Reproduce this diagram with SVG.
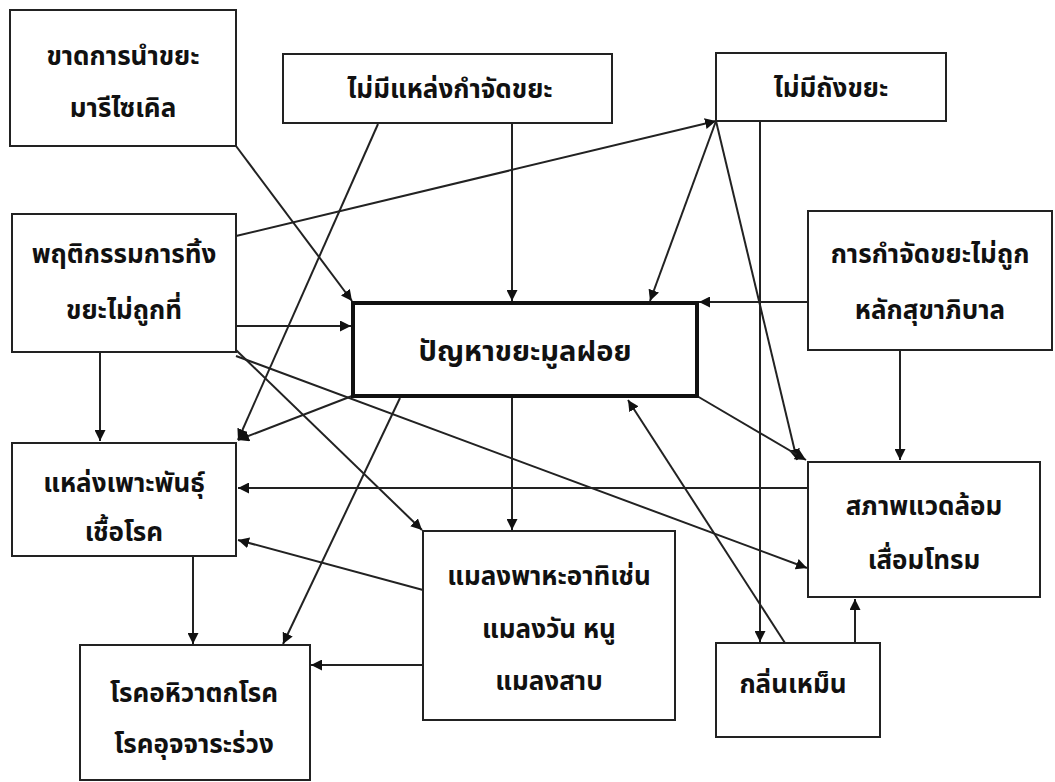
<svg xmlns="http://www.w3.org/2000/svg" width="1055" height="782" viewBox="0 0 1055 782">
<defs>
<marker id="ah" viewBox="0 0 10 10" refX="10" refY="5" markerWidth="11" markerHeight="11" markerUnits="userSpaceOnUse" orient="auto">
<path d="M0,0 L10,5 L0,10 z" fill="#111"/>
</marker>
<style>
.box{fill:#fff;stroke:#222;stroke-width:2}
.main{fill:#fff;stroke:#111;stroke-width:4}
.t{font-family:"Noto Sans Thai","Loma","Garuda","Norasi","DejaVu Sans",sans-serif;font-size:26px;font-weight:bold;fill:#111;text-anchor:middle}
.c line{stroke:#222;stroke-width:2;marker-end:url(#ah)}
</style>
</defs>
<rect width="1055" height="782" fill="#fff"/>
<g id="connectors" class="c">
<line x1="236" y1="146" x2="352" y2="301"/>
<line x1="378" y1="124" x2="238" y2="440"/>
<line x1="512" y1="124" x2="512" y2="301"/>
<line x1="236" y1="236" x2="716" y2="121"/>
<line x1="716" y1="121" x2="650" y2="301"/>
<line x1="716" y1="121" x2="797" y2="460"/>
<line x1="760" y1="121" x2="760" y2="642"/>
<line x1="808" y1="302" x2="699" y2="302"/>
<line x1="900" y1="350" x2="900" y2="460"/>
<line x1="236" y1="326" x2="351" y2="326"/>
<line x1="100" y1="352" x2="100" y2="441"/>
<line x1="236" y1="350" x2="422" y2="530"/>
<line x1="236" y1="356" x2="807" y2="568"/>
<line x1="352" y1="396" x2="238" y2="440"/>
<line x1="400" y1="398" x2="283" y2="644"/>
<line x1="512" y1="398" x2="512" y2="530"/>
<line x1="697" y1="396" x2="806" y2="460"/>
<line x1="785" y1="643" x2="628" y2="400"/>
<line x1="808" y1="488" x2="238" y2="488"/>
<line x1="855" y1="643" x2="855" y2="599"/>
<line x1="423" y1="590" x2="238" y2="540"/>
<line x1="423" y1="665" x2="311" y2="665"/>
<line x1="193" y1="556" x2="193" y2="644"/>
</g>
<g id="n1"><rect class="box" x="10" y="10" width="226" height="136"/><text class="t" x="123" y="65">ขาดการนำขยะ</text><text class="t" x="123" y="117">มารีไซเคิล</text></g>
<g id="n2"><rect class="box" x="283" y="54" width="329" height="69"/><text class="t" x="450" y="98">ไม่มีแหล่งกำจัดขยะ</text></g>
<g id="n3"><rect class="box" x="716" y="53" width="230" height="68"/><text class="t" x="831" y="97">ไม่มีถังขยะ</text></g>
<g id="n4"><rect class="box" x="12" y="214" width="224" height="138"/><text class="t" x="124" y="263">พฤติกรรมการทิ้ง</text><text class="t" x="124" y="319">ขยะไม่ถูกที่</text></g>
<g id="n5"><rect class="main" x="353" y="303" width="344" height="93"/><text class="t" x="525" y="361" style="font-size:29px">ปัญหาขยะมูลฝอย</text></g>
<g id="n6"><rect class="box" x="808" y="211" width="244" height="139"/><text class="t" x="930" y="263">การกำจัดขยะไม่ถูก</text><text class="t" x="930" y="319">หลักสุขาภิบาล</text></g>
<g id="n7"><rect class="box" x="12" y="443" width="224" height="113"/><text class="t" x="124" y="492">แหล่งเพาะพันธุ์</text><text class="t" x="124" y="541">เชื้อโรค</text></g>
<g id="n8"><rect class="box" x="808" y="462" width="232" height="135"/><text class="t" x="924" y="515">สภาพแวดล้อม</text><text class="t" x="924" y="569">เสื่อมโทรม</text></g>
<g id="n9"><rect class="box" x="423" y="531" width="252" height="189"/><text class="t" x="549" y="585">แมลงพาหะอาทิเช่น</text><text class="t" x="549" y="638">แมลงวัน หนู</text><text class="t" x="549" y="690">แมลงสาบ</text></g>
<g id="n10"><rect class="box" x="80" y="645" width="230" height="135"/><text class="t" x="194" y="702">โรคอหิวาตกโรค</text><text class="t" x="194" y="753">โรคอุจจาระร่วง</text></g>
<g id="n11"><rect class="box" x="716" y="643" width="164" height="94"/><text class="t" x="793" y="693">กลิ่นเหม็น</text></g>
</svg>
